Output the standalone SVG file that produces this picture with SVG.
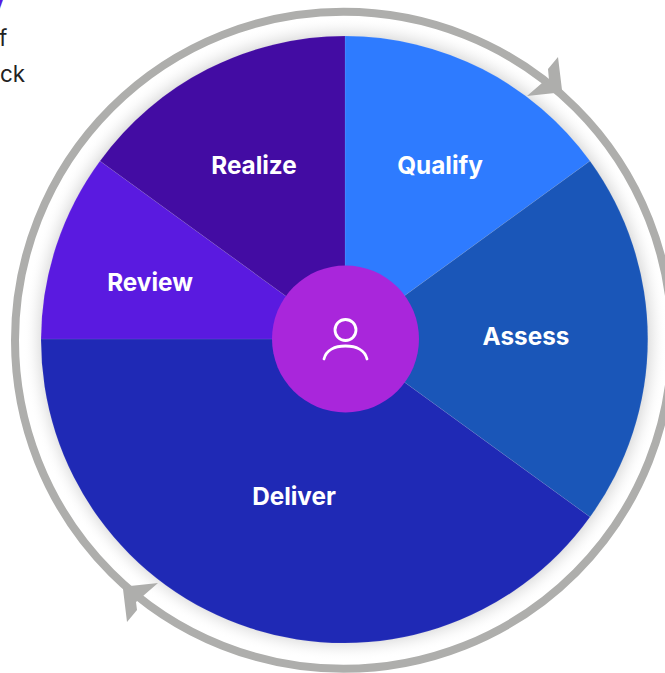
<svg xmlns="http://www.w3.org/2000/svg" width="665" height="673" viewBox="0 0 665 673">
<style>
.lbl{font-family:Inter,"Liberation Sans",sans-serif;font-weight:700;font-size:24.300px;fill:#fff;text-anchor:middle}
.body{font-family:Inter,"Liberation Sans",sans-serif;font-size:22.500px;fill:#222}
.hd{font-family:Inter,"Liberation Sans",sans-serif;font-weight:700;font-size:28px;fill:#5a1ae0}
.arrow{fill:#aeaeac}
.seg{stroke:#fff;stroke-opacity:.1;stroke-width:.8}
</style>
<defs>
<radialGradient id="halo" gradientUnits="userSpaceOnUse" cx="345" cy="339" r="322">
<stop offset="0.93" stop-color="#999" stop-opacity="0.38"/>
<stop offset="0.97" stop-color="#bbb" stop-opacity="0.12"/>
<stop offset="1" stop-color="#fff" stop-opacity="0"/>
</radialGradient>
</defs>
<rect width="665" height="673" fill="#fff"/>
<text class="hd" x="-10" y="6">y</text>
<text class="body" x="-1" y="46">f</text>
<text class="body" x="0" y="82">ck</text>
<circle cx="345" cy="339" r="322" fill="url(#halo)"/>
<g id="connectors">
<circle cx="343.500" cy="340.300" r="328.500" fill="none" stroke="#aeaeac" stroke-width="8"/>
<path class="arrow" d="M558 57L548 69L549 80L542 83L527 96L555 93L562 90Z"/>
<path class="arrow" d="M158 583L130 586L123 589L127 622L137 610L136 602L143 596Z"/>
</g>
<g id="qualify"><path class="seg" d="M345 339V36A303 303 0 0 1 590 161Z" fill="#2e7bff"/><text class="lbl" x="440" y="174">Qualify</text></g>
<g id="assess"><path class="seg" d="M345 339L590 161A303 303 0 0 1 590 517Z" fill="#1a56b8"/><text class="lbl" x="526" y="345">Assess</text></g>
<g id="deliver"><path class="seg" d="M345 339L590 517A303 303 0 0 1 41 339Z" fill="#1f29b5"/><text class="lbl" x="294" y="505">Deliver</text></g>
<g id="review"><path class="seg" d="M345 339H41A303 303 0 0 1 100 161Z" fill="#5a1ae0"/><text class="lbl" x="150" y="291">Review</text></g>
<g id="realize"><path class="seg" d="M345 339L100 161A303 303 0 0 1 345 36Z" fill="#430ca3"/><text class="lbl" x="254" y="174">Realize</text></g>
<g id="center">
<circle cx="345.500" cy="339" r="73.500" fill="#a926db"/>
<circle cx="345.500" cy="330" r="10.500" fill="none" stroke="#fff" stroke-width="2.800"/>
<path d="M324 359C326 350 335 346 345.500 346C356 346 365 350 367 359" fill="none" stroke="#fff" stroke-width="2.800" stroke-linecap="round"/>
</g>
</svg>
